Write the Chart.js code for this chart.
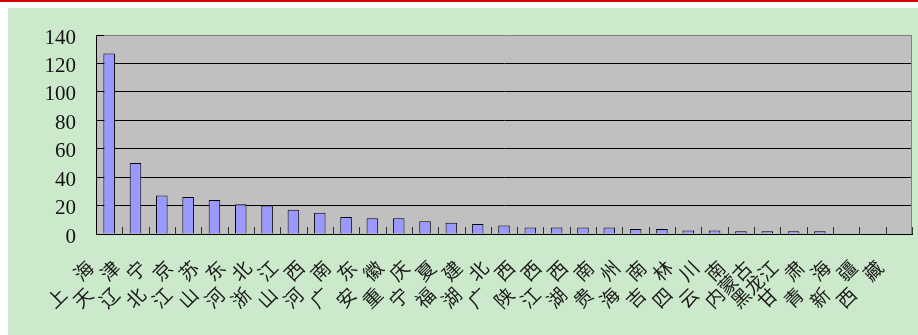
<!DOCTYPE html>
<html>
<head>
<meta charset="utf-8">
<script src="https://cdn.jsdelivr.net/npm/chart.js@4/dist/chart.umd.min.js"></script>
<style>
  html, body { margin: 0; padding: 0; background: #ffffff; }
  #wrap { position: relative; width: 918px; height: 335px; overflow: hidden; }
  #topline { position: absolute; left: 0; top: 0; width: 918px; height: 2px; background: #cc0000; }
  #panel { position: absolute; left: 8px; top: 8px; right: 0; bottom: 0; background: #cce9cc; }
  canvas { position: absolute; left: 0; top: 0; }
</style>
</head>
<body>
<div id="wrap">
  <div id="topline"></div>
  <div id="panel"></div>
  <canvas id="chart" width="918" height="335"></canvas>
</div>
<script>
// Provinces, in descending order of value
const provinces = ['上海','天津','辽宁','北京','江苏','山东','河北','浙江','山西','河南','广东',
  '安徽','重庆','宁夏','福建','湖北','广西','陕西','江西','湖南','贵州','海南','吉林','四川',
  '云南','内蒙古','黑龙江','甘肃','青海','新疆','西藏'];
const values = [127, 50, 27, 26, 24, 21, 20, 17, 15, 12, 11, 11, 9, 8, 7, 6,
  4.5, 4.5, 4.5, 4.5, 3.5, 3.5, 2.5, 2.5, 2, 2, 2, 2, 0, 0, 0];
const yTicks = [0, 20, 40, 60, 80, 100, 120, 140];

// Grey plot area, right frame edge and short category-boundary ticks on the axis
const plotFrame = {
  id: 'plotFrame',
  beforeDraw(chart) {
    const { ctx, chartArea: a } = chart;
    ctx.save();
    ctx.fillStyle = '#c0c0c0';
    ctx.fillRect(a.left, a.top, a.right - a.left, a.bottom - a.top);
    ctx.restore();
  },
  afterDatasetsDraw(chart) {
    const { ctx, chartArea: a, scales: { x, y } } = chart;
    ctx.save();
    ctx.lineWidth = 1;
    ctx.strokeStyle = '#808080';
    const rx = Math.round(a.right) - 0.5;
    ctx.beginPath(); ctx.moveTo(rx, a.top); ctx.lineTo(rx, a.bottom); ctx.stroke();
    // inward tick at the top value
    const ty = Math.round(y.getPixelForValue(yTicks[yTicks.length - 1])) + 0.5;
    ctx.strokeStyle = '#000';
    ctx.beginPath(); ctx.moveTo(a.left, ty); ctx.lineTo(a.left + 8, ty); ctx.stroke();
    // category boundary ticks
    const half = (x.getPixelForValue(1) - x.getPixelForValue(0)) / 2;
    ctx.strokeStyle = '#333';
    for (let i = 1; i <= provinces.length; i++) {
      const px = Math.round(x.getPixelForValue(i) - half) + 0.5;
      ctx.beginPath(); ctx.moveTo(px, a.bottom); ctx.lineTo(px, a.bottom - 7); ctx.stroke();
    }
    ctx.restore();
  }
};

new Chart(document.getElementById('chart'), {
  type: 'bar',
  data: {
    labels: provinces,
    datasets: [{
      data: values,
      backgroundColor: '#9999ff',
      borderColor: '#000000',
      borderWidth: 1,
      barPercentage: 0.44,
      categoryPercentage: 1
    }]
  },
  options: {
    responsive: false,
    animation: false,
    layout: { padding: { left: 0, right: 6, top: 35, bottom: 0 } },
    plugins: { legend: { display: false }, tooltip: { enabled: false } },
    scales: {
      x: {
        offset: true,
        grid: { display: false, drawTicks: false },
        border: { display: true, color: '#000000', width: 1 },
        ticks: {
          autoSkip: false,
          minRotation: 45,
          maxRotation: 45,
          padding: 22,
          labelOffset: -19,
          color: '#1a1a1a',
          font: { family: '"Noto Sans CJK SC"', size: 19 },
          callback(value, index) {
            const n = provinces[index];
            return n.length === 2 ? n[0] + '\u3000' + n[1] : n;
          }
        },
        afterFit(scale) {
          scale.height = 101;
          scale.paddingLeft = 0;
          scale.paddingRight = 0;
        }
      },
      y: {
        min: 0,
        max: 140,
        afterBuildTicks(scale) { scale.ticks = yTicks.map(v => ({ value: v })); },
        grid: {
          drawTicks: false,
          lineWidth: 1,
          color: (c) => (c.tick && c.tick.value === 140 ? '#808080' : '#000000')
        },
        border: { display: true, color: '#000000', width: 1 },
        ticks: {
          padding: 20,
          labelOffset: 3,
          color: '#111111',
          font: { family: '"Liberation Serif"', size: 21 }
        },
        afterFit(scale) {
          scale.width = 96;
          scale.paddingTop = 0;
          scale.paddingBottom = 0;
        }
      }
    }
  },
  plugins: [plotFrame]
});
</script>
</body>
</html>
